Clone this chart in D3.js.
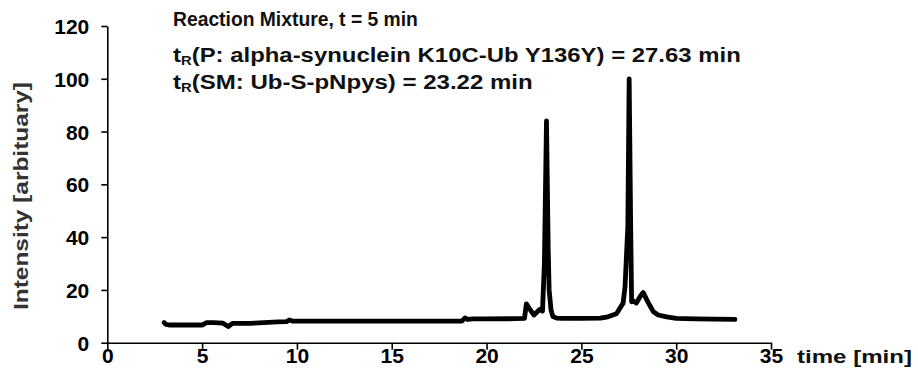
<!DOCTYPE html>
<html><head><meta charset="utf-8">
<script src="https://cdn.jsdelivr.net/npm/d3@7"></script>
<style>body{margin:0;background:#fff;} svg{display:block;}</style>
</head><body>
<svg id="c" width="918" height="392"></svg>
<script>
const time = [3.0,3.1,3.3,4.0,5.0,5.24,5.6,6.1,6.38,6.6,7.5,9.0,9.45,9.6,9.75,12,15,18.7,18.86,19.0,19.3,20,21.5,22.0,22.1,22.25,22.5,22.8,22.95,23.05,23.16,23.25,23.3,23.4,23.5,23.7,24.0,25,26.0,26.4,26.85,27.2,27.3,27.45,27.52,27.6,27.65,27.7,27.9,28.1,28.26,28.4,28.5,28.8,29.05,29.5,30.0,31,32,33.1];
const intensity = [7.6,6.9,6.7,6.7,6.7,7.6,7.6,7.4,6.1,7.3,7.3,7.9,8.0,8.6,8.2,8.2,8.2,8.2,9.4,8.8,9.0,9.0,9.1,9.2,14.7,13.0,10.5,12.6,12.0,30,84,36,20,12.4,9.9,9.3,9.2,9.2,9.3,9.8,11.0,15.0,21.0,44,100,44,15.5,16.0,15.0,17.5,19.0,17.0,15.5,11.7,10.5,9.8,9.2,9.0,8.9,8.8];
const xTicks = [0,5,10,15,20,25,30,35];
const yTicks = [0,20,40,60,80,100,120];
const title = "Reaction Mixture, t = 5 min";
const peakLabels = ["(P: alpha-synuclein K10C-Ub Y136Y) = 27.63 min","(SM: Ub-S-pNpys) = 23.22 min"];

const svg = d3.select("#c");
const font = "'Liberation Sans', Arial, Helvetica, sans-serif";
const x = d3.scaleLinear().domain([0,35]).range([107.3,771]);
const y = d3.scaleLinear().domain([0,120]).range([342.7,26]);

// stretch text horizontally so that it spans [left,right]
function stretch(sel, left, right){
  const bb = sel.node().getBBox();
  const sx = (right-left)/bb.width;
  sel.attr("transform", `translate(${left},0) scale(${sx.toFixed(4)},1) translate(${-bb.x},0)`);
}

// axes
const gx = svg.append("g").attr("transform","translate(0,342.7)")
  .call(d3.axisBottom(x).tickValues(xTicks).tickSize(7).tickSizeOuter(0).tickPadding(4));
const gy = svg.append("g").attr("transform","translate(107.3,0)")
  .call(d3.axisLeft(y).tickValues(yTicks).tickSize(6).tickSizeOuter(0).tickPadding(12));
[gx,gy].forEach(g=>{
  g.select(".domain").attr("stroke","#000").attr("stroke-width",1.6);
  g.selectAll(".tick line").attr("stroke","#000").attr("stroke-width",1.6);
  g.selectAll(".tick text").attr("fill","#000").style("font-family",font)
   .style("font-size","21px").style("font-weight","bold");
});
gx.selectAll(".tick text").attr("dy",9.5);
gy.selectAll(".tick text").attr("dy","0.36em");

// line
const line = d3.line().x((d,i)=>x(time[i])).y(d=>y(d));
svg.append("path").datum(intensity).attr("d",line)
  .attr("fill","none").attr("stroke","#000").attr("stroke-width",4.8)
  .attr("stroke-linejoin","round").attr("stroke-linecap","round");

// axis titles
const tl = svg.append("text").attr("y",363).text("time [min]")
  .style("font-family",font).style("font-size","19px").style("font-weight","bold").attr("fill","#111");
stretch(tl, 797, 912);
svg.append("text").attr("transform","translate(28,196) rotate(-90)").attr("text-anchor","middle")
  .attr("textLength",228).attr("lengthAdjust","spacingAndGlyphs")
  .text("Intensity [arbituary]")
  .style("font-family",font).style("font-size","20px").style("font-weight","bold").attr("fill","#333");

// annotations
const tt = svg.append("text").attr("y",26).text(title)
  .style("font-family",font).style("font-size","21px").style("font-weight","bold").attr("fill","#111");
stretch(tt, 173, 418);
const rights = [741, 533];
peakLabels.forEach((p,i)=>{
  const t = svg.append("text").attr("y",62+i*27)
    .style("font-family",font).style("font-size","21px").style("font-weight","bold").attr("fill","#111");
  t.append("tspan").text("t");
  t.append("tspan").text("R").style("font-size","13px").attr("dy","3");
  t.append("tspan").text(p).attr("dy","-3");
  stretch(t, 173, rights[i]);
});
</script>
</body></html>
